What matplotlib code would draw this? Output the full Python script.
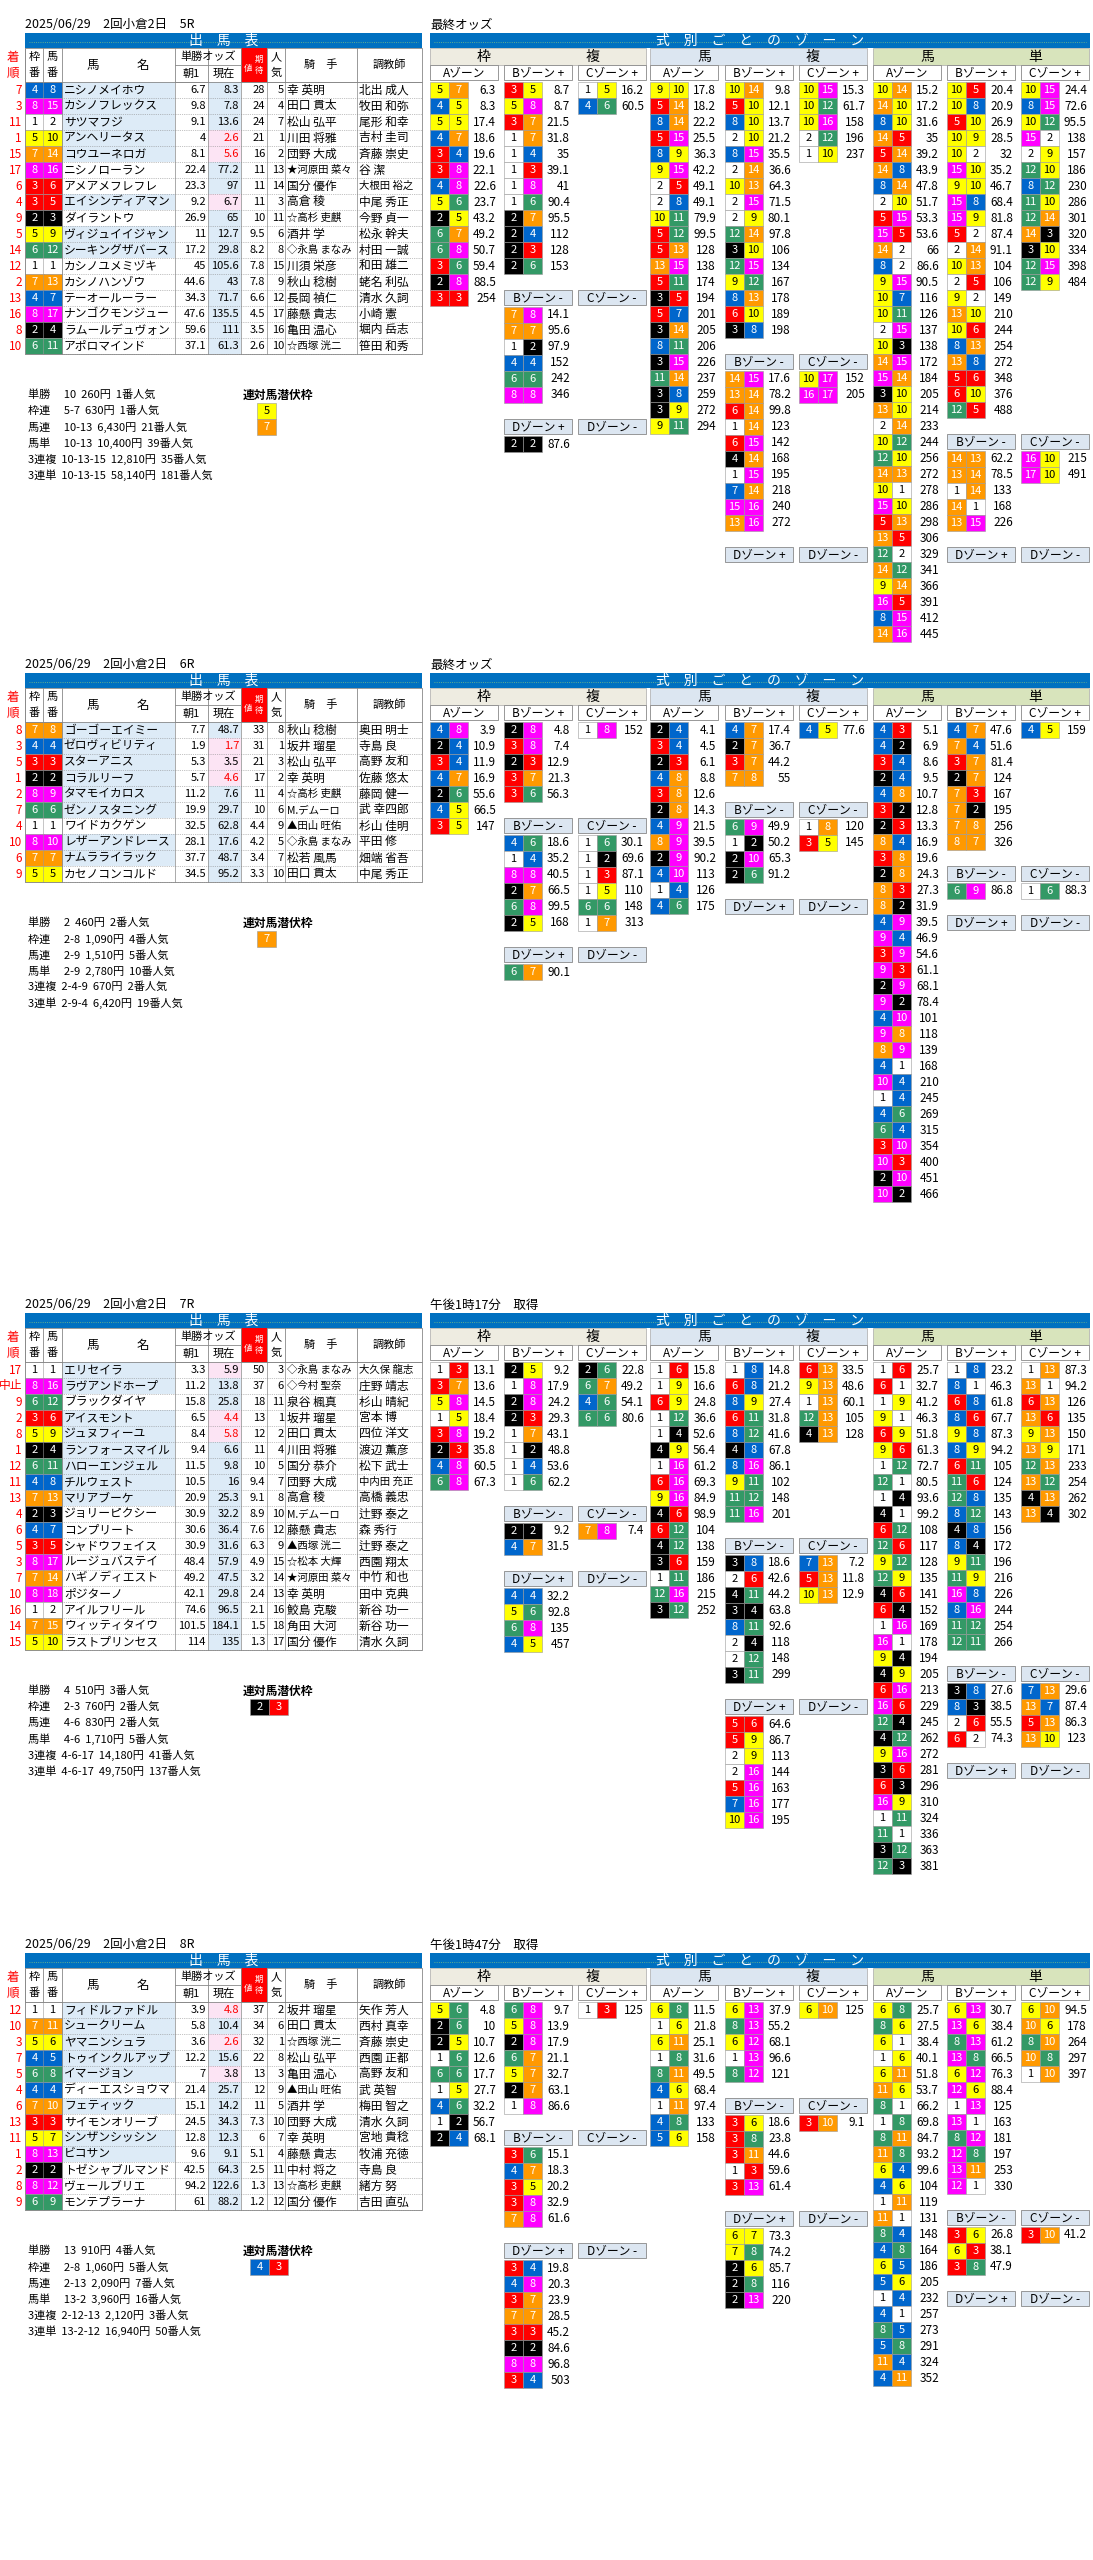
import matplotlib
matplotlib.use("Agg")
import matplotlib.pyplot as plt
from matplotlib.patches import Rectangle

plt.rcParams["font.family"] = ["Noto Sans CJK JP", "DejaVu Sans"]

# ---------------- data: race headers ----------------
RACE_TITLES = ["2025/06/29　2回小倉2日　5R", "2025/06/29　2回小倉2日　6R",
               "2025/06/29　2回小倉2日　7R", "2025/06/29　2回小倉2日　8R"]
ODDS_TIMES = ["最終オッズ", "最終オッズ", "午後1時17分　取得", "午後1時47分　取得"]
FIELD_SIZES = [17, 10, 18, 13]

# horse tables: (着順, 馬番, 馬名, 朝1, 現在, 期待値, 人気, 騎手, 調教師)
R1_HORSES = [
    ("7", 8, "ニシノメイホウ", 6.7, 8.3, 28, 5, "幸 英明", "北出 成人"),
    ("3", 15, "カシノフレックス", 9.8, 7.8, 24, 4, "田口 貫太", "牧田 和弥"),
    ("11", 2, "サツマフジ", 9.1, 13.6, 24, 7, "松山 弘平", "尾形 和幸"),
    ("1", 10, "アンヘリータス", 4, 2.6, 21, 1, "川田 将雅", "吉村 圭司"),
    ("15", 14, "コウユーネロガ", 8.1, 5.6, 16, 2, "団野 大成", "斉藤 崇史"),
    ("17", 16, "ニシノローラン", 22.4, 77.2, 11, 13, "★河原田 菜々", "谷 潔"),
    ("6", 6, "アメアメフレフレ", 23.3, 97, 11, 14, "国分 優作", "大根田 裕之"),
    ("4", 5, "エイシンディアマン", 9.2, 6.7, 11, 3, "高倉 稜", "中尾 秀正"),
    ("9", 3, "ダイラントウ", 26.9, 65, 10, 11, "☆高杉 吏麒", "今野 貞一"),
    ("5", 9, "ヴィジュイイジャン", 11, 12.7, 9.5, 6, "酒井 学", "松永 幹夫"),
    ("14", 12, "シーキングザバース", 17.2, 29.8, 8.2, 8, "◇永島 まなみ", "村田 一誠"),
    ("12", 1, "カシノユメミヅキ", 45, 105.6, 7.8, 15, "川須 栄彦", "和田 雄二"),
    ("2", 13, "カシノハンゾウ", 44.6, 43, 7.8, 9, "秋山 稔樹", "蛯名 利弘"),
    ("13", 7, "テーオールーラー", 34.3, 71.7, 6.6, 12, "長岡 禎仁", "清水 久詞"),
    ("16", 17, "ナンゴクモンジュー", 47.6, 135.5, 4.5, 17, "藤懸 貴志", "小崎 憲"),
    ("8", 4, "ラムールデュヴォン", 59.6, 111, 3.5, 16, "亀田 温心", "堀内 岳志"),
    ("10", 11, "アポロマインド", 37.1, 61.3, 2.6, 10, "☆西塚 洸二", "笹田 和秀"),
]
R2_HORSES = [
    ("8", 8, "ゴーゴーエイミー", 7.7, 48.7, 33, 8, "秋山 稔樹", "奥田 明士"),
    ("3", 4, "ゼロヴィビリティ", 1.9, 1.7, 31, 1, "坂井 瑠星", "寺島 良"),
    ("5", 3, "スターアニス", 5.3, 3.5, 21, 3, "松山 弘平", "高野 友和"),
    ("1", 2, "コラルリーフ", 5.7, 4.6, 17, 2, "幸 英明", "佐藤 悠太"),
    ("2", 9, "タマモイカロス", 11.2, 7.6, 11, 4, "☆高杉 吏麒", "藤岡 健一"),
    ("7", 6, "ゼンノスタニング", 19.9, 29.7, 10, 6, "M.デムーロ", "武 幸四郎"),
    ("4", 1, "ワイドカクゲン", 32.5, 62.8, 4.4, 9, "▲田山 旺佑", "杉山 佳明"),
    ("10", 10, "レザーアンドレース", 28.1, 17.6, 4.2, 5, "◇永島 まなみ", "平田 修"),
    ("6", 7, "ナムラライラック", 37.7, 48.7, 3.4, 7, "松若 風馬", "畑端 省吾"),
    ("9", 5, "カセノコンコルド", 34.5, 95.2, 3.3, 10, "田口 貫太", "中尾 秀正"),
]
R3_HORSES = [
    ("17", 1, "エリセイラ", 3.3, 5.9, 50, 3, "◇永島 まなみ", "大久保 龍志"),
    ("中止", 16, "ラヴアンドホープ", 11.2, 13.8, 37, 6, "◇今村 聖奈", "庄野 靖志"),
    ("9", 12, "ブラックダイヤ", 15.8, 25.8, 18, 11, "泉谷 楓真", "杉山 晴紀"),
    ("2", 6, "アイスモント", 6.5, 4.4, 13, 1, "坂井 瑠星", "宮本 博"),
    ("8", 9, "ジュヌフィーユ", 8.4, 5.8, 12, 2, "田口 貫太", "四位 洋文"),
    ("1", 4, "ランフォースマイル", 9.4, 6.6, 11, 4, "川田 将雅", "渡辺 薫彦"),
    ("12", 11, "ハローエンジェル", 11.5, 9.8, 10, 5, "国分 恭介", "松下 武士"),
    ("11", 8, "チルウェスト", 10.5, 16, 9.4, 7, "団野 大成", "中内田 充正"),
    ("13", 13, "マリアブーケ", 20.9, 25.3, 9.1, 8, "高倉 稜", "高橋 義忠"),
    ("4", 3, "ジョリーピクシー", 30.9, 32.2, 8.9, 10, "M.デムーロ", "辻野 泰之"),
    ("6", 7, "コンプリート", 30.6, 36.4, 7.6, 12, "藤懸 貴志", "森 秀行"),
    ("5", 5, "シャドウフェイス", 30.9, 31.6, 6.3, 9, "▲西塚 洸二", "辻野 泰之"),
    ("3", 17, "ルージュバステイ", 48.4, 57.9, 4.9, 15, "☆松本 大輝", "西園 翔太"),
    ("7", 14, "ハギノディエスト", 49.2, 47.5, 3.2, 14, "★河原田 菜々", "中竹 和也"),
    ("10", 18, "ポジターノ", 42.1, 29.8, 2.4, 13, "幸 英明", "田中 克典"),
    ("16", 2, "アイルフリール", 74.6, 96.5, 2.1, 16, "鮫島 克駿", "新谷 功一"),
    ("14", 15, "ウィッティタイウ", 101.5, 184.1, 1.5, 18, "角田 大河", "新谷 功一"),
    ("15", 10, "ラストプリンセス", 114, 135, 1.3, 17, "国分 優作", "清水 久詞"),
]
R4_HORSES = [
    ("12", 1, "フィドルファドル", 3.9, 4.8, 37, 2, "坂井 瑠星", "矢作 芳人"),
    ("10", 11, "シュークリーム", 5.8, 10.4, 34, 6, "田口 貫太", "西村 真幸"),
    ("3", 6, "ヤマニンシュラ", 3.6, 2.6, 32, 1, "☆西塚 洸二", "斉藤 崇史"),
    ("7", 5, "トゥインクルアップ", 12.2, 15.6, 22, 8, "松山 弘平", "西園 正都"),
    ("5", 8, "イマージョン", 7.0, 3.8, 13, 3, "亀田 温心", "高野 友和"),
    ("4", 4, "ディーエスショウマ", 21.4, 25.7, 12, 9, "▲田山 旺佑", "武 英智"),
    ("6", 10, "フェティック", 15.1, 14.2, 11, 5, "酒井 学", "梅田 智之"),
    ("13", 3, "サイモンオリーブ", 24.5, 34.3, 7.3, 10, "団野 大成", "清水 久詞"),
    ("11", 7, "シンザンシッシン", 12.8, 12.3, 6.0, 7, "幸 英明", "宮地 貴稔"),
    ("1", 13, "ビコサン", 9.6, 9.1, 5.1, 4, "藤懸 貴志", "牧浦 充徳"),
    ("2", 2, "トゼシャブルマンド", 42.5, 64.3, 2.5, 11, "中村 将之", "寺島 良"),
    ("8", 12, "ヴェールブリエ", 94.2, 122.6, 1.3, 13, "☆高杉 吏麒", "緒方 努"),
    ("9", 9, "モンテプラーナ", 61.0, 88.2, 1.2, 12, "国分 優作", "吉田 直弘"),
]

R1_PAYOUTS = ["単勝　 10  260円  1番人気", "枠連　 5-7  630円  1番人気", "馬連　 10-13  6,430円  21番人気",
              "馬単　 10-13  10,400円  39番人気", "3連複  10-13-15  12,810円  35番人気", "3連単  10-13-15  58,140円  181番人気"]
R2_PAYOUTS = ["単勝　 2  460円  2番人気", "枠連　 2-8  1,090円  4番人気", "馬連　 2-9  1,510円  5番人気",
              "馬単　 2-9  2,780円  10番人気", "3連複  2-4-9  670円  2番人気", "3連単  2-9-4  6,420円  19番人気"]
R3_PAYOUTS = ["単勝　 4  510円  3番人気", "枠連　 2-3  760円  2番人気", "馬連　 4-6  830円  2番人気",
              "馬単　 4-6  1,710円  5番人気", "3連複  4-6-17  14,180円  41番人気", "3連単  4-6-17  49,750円  137番人気"]
R4_PAYOUTS = ["単勝　 13  910円  4番人気", "枠連　 2-8  1,060円  5番人気", "馬連　 2-13  2,090円  7番人気",
              "馬単　 13-2  3,960円  16番人気", "3連複  2-12-13  2,120円  3番人気", "3連単  13-2-12  16,940円  50番人気"]
SENPUKU = [[5, 7], [7], [2, 3], [4, 3]]
SENPUKU_VERTICAL = [True, True, False, False]

# ---------------- data: zone lists (first, second, odds) ----------------
R1_WAKU = {
    "A": [(5, 7, 6.3), (4, 5, 8.3), (5, 5, 17.4), (4, 7, 18.6), (3, 4, 19.6), (3, 8, 22.1), (4, 8, 22.6),
          (5, 6, 23.7), (2, 5, 43.2), (6, 7, 49.2), (6, 8, 50.7), (3, 6, 59.4), (2, 8, 88.5), (3, 3, 254)],
    "B+": [(3, 5, 8.7), (5, 8, 8.7), (3, 7, 21.5), (1, 7, 31.8), (1, 4, 35), (1, 3, 39.1), (1, 8, 41),
           (1, 6, 90.4), (2, 7, 95.5), (2, 4, 112), (2, 3, 128), (2, 6, 153)],
    "C+": [(1, 5, 16.2), (4, 6, 60.5)],
    "B-": [(7, 8, 14.1), (7, 7, 95.6), (1, 2, 97.9), (4, 4, 152), (6, 6, 242), (8, 8, 346)],
    "C-": [],
    "D+": [(2, 2, 87.6)],
    "D-": [],
}
R1_UMAREN = {
    "A": [(9, 10, 17.8), (5, 14, 18.2), (8, 14, 22.2), (5, 15, 25.5), (8, 9, 36.3), (9, 15, 42.2), (2, 5, 49.1),
          (2, 8, 49.1), (10, 11, 79.9), (5, 12, 99.5), (5, 13, 128), (13, 15, 138), (5, 11, 174), (3, 5, 194),
          (5, 7, 201), (3, 14, 205), (8, 11, 206), (3, 15, 226), (11, 14, 237), (3, 8, 259), (3, 9, 272), (9, 11, 294)],
    "B+": [(10, 14, 9.8), (5, 10, 12.1), (8, 10, 13.7), (2, 10, 21.2), (8, 15, 35.5), (2, 14, 36.6), (10, 13, 64.3),
           (2, 15, 71.5), (2, 9, 80.1), (12, 14, 97.8), (3, 10, 106), (12, 15, 134), (9, 12, 167), (8, 13, 178),
           (6, 10, 189), (3, 8, 198)],
    "C+": [(10, 15, 15.3), (10, 12, 61.7), (10, 16, 158), (2, 12, 196), (1, 10, 237)],
    "B-": [(14, 15, 17.6), (13, 14, 78.2), (6, 14, 99.8), (1, 14, 123), (6, 15, 142), (4, 14, 168), (1, 15, 195),
           (7, 14, 218), (15, 16, 240), (13, 16, 272)],
    "C-": [(10, 17, 152), (16, 17, 205)],
    "D+": [],
    "D-": [],
}
R1_UMATAN = {
    "A": [(10, 14, 15.2), (14, 10, 17.2), (8, 10, 31.6), (14, 5, 35), (5, 14, 39.2), (14, 8, 43.9), (8, 14, 47.8),
          (2, 10, 51.7), (5, 15, 53.3), (15, 5, 53.6), (14, 2, 66), (8, 2, 86.6), (9, 15, 90.5), (10, 7, 116),
          (10, 11, 126), (2, 15, 137), (10, 3, 138), (14, 15, 172), (15, 14, 184), (3, 10, 205), (13, 10, 214),
          (2, 14, 233), (10, 12, 244), (12, 10, 256), (14, 13, 272), (10, 1, 278), (15, 10, 286), (5, 13, 298),
          (13, 5, 306), (12, 2, 329), (14, 12, 341), (9, 14, 366), (16, 5, 391), (8, 15, 412), (14, 16, 445)],
    "B+": [(10, 5, 20.4), (10, 8, 20.9), (5, 10, 26.9), (10, 9, 28.5), (10, 2, 32), (15, 10, 35.2), (9, 10, 46.7),
           (15, 8, 68.4), (15, 9, 81.8), (5, 2, 87.4), (2, 14, 91.1), (10, 13, 104), (2, 5, 106), (9, 2, 149),
           (13, 10, 210), (10, 6, 244), (8, 13, 254), (13, 8, 272), (5, 6, 348), (6, 10, 376), (12, 5, 488)],
    "C+": [(10, 15, 24.4), (8, 15, 72.6), (10, 12, 95.5), (15, 2, 138), (2, 9, 157), (12, 10, 186), (8, 12, 230),
           (11, 10, 286), (12, 14, 301), (14, 3, 320), (3, 10, 334), (12, 15, 398), (12, 9, 484)],
    "B-": [(14, 13, 62.2), (13, 14, 78.5), (1, 14, 133), (14, 1, 168), (13, 15, 226)],
    "C-": [(16, 10, 215), (17, 10, 491)],
    "D+": [],
    "D-": [],
}

R2_WAKU = {
    "A": [(4, 8, 3.9), (2, 4, 10.9), (3, 4, 11.9), (4, 7, 16.9), (2, 6, 55.6), (4, 5, 66.5), (3, 5, 147)],
    "B+": [(2, 8, 4.8), (3, 8, 7.4), (2, 3, 12.9), (3, 7, 21.3), (3, 6, 56.3)],
    "C+": [(1, 8, 152)],
    "B-": [(4, 6, 18.6), (1, 4, 35.2), (8, 8, 40.5), (2, 7, 66.5), (6, 8, 99.5), (2, 5, 168)],
    "C-": [(1, 6, 30.1), (1, 2, 69.6), (1, 3, 87.1), (1, 5, 110), (6, 6, 148), (1, 7, 313)],
    "D+": [(6, 7, 90.1)],
    "D-": [],
}
R2_UMAREN = {
    "A": [(2, 4, 4.1), (3, 4, 4.5), (2, 3, 6.1), (4, 8, 8.8), (3, 8, 12.6), (2, 8, 14.3), (4, 9, 21.5),
          (8, 9, 39.5), (2, 9, 90.2), (4, 10, 113), (1, 4, 126), (4, 6, 175)],
    "B+": [(4, 7, 17.4), (2, 7, 36.7), (3, 7, 44.2), (7, 8, 55)],
    "C+": [(4, 5, 77.6)],
    "B-": [(6, 9, 49.9), (1, 2, 50.2), (2, 10, 65.3), (2, 6, 91.2)],
    "C-": [(1, 8, 120), (3, 5, 145)],
    "D+": [],
    "D-": [],
}
R2_UMATAN = {
    "A": [(4, 3, 5.1), (4, 2, 6.9), (3, 4, 8.6), (2, 4, 9.5), (4, 8, 10.7), (3, 2, 12.8), (2, 3, 13.3), (8, 4, 16.9),
          (3, 8, 19.6), (2, 8, 24.3), (8, 3, 27.3), (8, 2, 31.9), (4, 9, 39.5), (9, 4, 46.9), (3, 9, 54.6),
          (9, 3, 61.1), (2, 9, 68.1), (9, 2, 78.4), (4, 10, 101), (9, 8, 118), (8, 9, 139), (4, 1, 168),
          (10, 4, 210), (1, 4, 245), (4, 6, 269), (6, 4, 315), (3, 10, 354), (10, 3, 400), (2, 10, 451), (10, 2, 466)],
    "B+": [(4, 7, 47.6), (7, 4, 51.6), (3, 7, 81.4), (2, 7, 124), (7, 3, 167), (7, 2, 195), (7, 8, 256), (8, 7, 326)],
    "C+": [(4, 5, 159)],
    "B-": [(6, 9, 86.8)],
    "C-": [(1, 6, 88.3)],
    "D+": [],
    "D-": [],
}

R3_WAKU = {
    "A": [(1, 3, 13.1), (3, 7, 13.6), (5, 8, 14.5), (1, 5, 18.4), (3, 8, 19.2), (2, 3, 35.8), (4, 8, 60.5), (6, 8, 67.3)],
    "B+": [(2, 5, 9.2), (1, 8, 17.9), (2, 8, 24.2), (2, 3, 29.3), (1, 7, 43.1), (1, 2, 48.8), (1, 4, 53.6), (1, 6, 62.2)],
    "C+": [(2, 6, 22.8), (6, 7, 49.2), (4, 6, 54.1), (6, 6, 80.6)],
    "B-": [(2, 2, 9.2), (4, 7, 31.5)],
    "C-": [(7, 8, 7.4)],
    "D+": [(4, 4, 32.2), (5, 6, 92.8), (6, 8, 135), (4, 5, 457)],
    "D-": [],
}
R3_UMAREN = {
    "A": [(1, 6, 15.8), (1, 9, 16.6), (6, 9, 24.8), (1, 12, 36.6), (1, 4, 52.6), (4, 9, 56.4), (1, 16, 61.2),
          (6, 16, 69.3), (9, 16, 84.9), (4, 6, 98.9), (6, 12, 104), (4, 12, 138), (3, 6, 159), (1, 11, 186),
          (12, 16, 215), (3, 12, 252)],
    "B+": [(1, 8, 14.8), (6, 8, 21.2), (8, 9, 27.4), (6, 11, 31.8), (8, 12, 41.6), (4, 8, 67.8), (8, 16, 86.1),
           (9, 11, 102), (11, 12, 148), (11, 16, 201)],
    "C+": [(6, 13, 33.5), (9, 13, 48.6), (1, 13, 60.1), (12, 13, 105), (4, 13, 128)],
    "B-": [(3, 8, 18.6), (2, 6, 42.6), (4, 11, 44.2), (3, 4, 63.8), (8, 11, 92.6), (2, 4, 118), (2, 12, 148), (3, 11, 299)],
    "C-": [(7, 13, 7.2), (5, 13, 11.8), (10, 13, 12.9)],
    "D+": [(5, 6, 64.6), (5, 9, 86.7), (2, 9, 113), (2, 16, 144), (5, 16, 163), (7, 16, 177), (10, 16, 195)],
    "D-": [],
}
R3_UMATAN = {
    "A": [(1, 6, 25.7), (6, 1, 32.7), (1, 9, 41.2), (9, 1, 46.3), (6, 9, 51.8), (9, 6, 61.3), (1, 12, 72.7),
          (12, 1, 80.5), (1, 4, 93.6), (4, 1, 99.2), (6, 12, 108), (12, 6, 117), (9, 12, 128), (12, 9, 135),
          (4, 6, 141), (6, 4, 152), (1, 16, 169), (16, 1, 178), (9, 4, 194), (4, 9, 205), (6, 16, 213),
          (16, 6, 229), (12, 4, 245), (4, 12, 262), (9, 16, 272), (3, 6, 281), (6, 3, 296), (16, 9, 310),
          (1, 11, 324), (11, 1, 336), (3, 12, 363), (12, 3, 381)],
    "B+": [(1, 8, 23.2), (8, 1, 46.3), (6, 8, 61.8), (8, 6, 67.7), (9, 8, 87.3), (8, 9, 94.2), (6, 11, 105),
           (11, 6, 124), (12, 8, 135), (8, 12, 143), (4, 8, 156), (8, 4, 172), (9, 11, 196), (11, 9, 216),
           (16, 8, 226), (8, 16, 244), (11, 12, 254), (12, 11, 266)],
    "C+": [(1, 13, 87.3), (13, 1, 94.2), (6, 13, 126), (13, 6, 135), (9, 13, 150), (13, 9, 171), (12, 13, 233),
           (13, 12, 254), (4, 13, 262), (13, 4, 302)],
    "B-": [(3, 8, 27.6), (8, 3, 38.5), (2, 6, 55.5), (6, 2, 74.3)],
    "C-": [(7, 13, 29.6), (13, 7, 87.4), (5, 13, 86.3), (13, 10, 123)],
    "D+": [],
    "D-": [],
}

R4_WAKU = {
    "A": [(5, 6, 4.8), (2, 6, 10), (2, 5, 10.7), (1, 6, 12.6), (6, 6, 17.7), (1, 5, 27.7), (4, 6, 32.2),
          (1, 2, 56.7), (2, 4, 68.1)],
    "B+": [(6, 8, 9.7), (5, 8, 13.9), (2, 8, 17.9), (6, 7, 21.1), (5, 7, 32.7), (2, 7, 63.1), (1, 8, 86.6)],
    "C+": [(1, 3, 125)],
    "B-": [(3, 6, 15.1), (4, 7, 18.3), (3, 5, 20.2), (3, 8, 32.9), (7, 8, 61.6)],
    "C-": [],
    "D+": [(3, 4, 19.8), (4, 8, 20.3), (3, 7, 23.9), (7, 7, 28.5), (3, 3, 45.2), (2, 2, 84.6), (8, 8, 96.8), (3, 4, 503)],
    "D-": [],
}
R4_UMAREN = {
    "A": [(6, 8, 11.5), (1, 6, 21.8), (6, 11, 25.1), (1, 8, 31.6), (8, 11, 49.5), (4, 6, 68.4), (1, 11, 97.4),
          (4, 8, 133), (5, 6, 158)],
    "B+": [(6, 13, 37.9), (8, 13, 55.2), (6, 12, 68.1), (1, 13, 96.6), (8, 12, 121)],
    "C+": [(6, 10, 125)],
    "B-": [(3, 6, 18.6), (3, 8, 23.8), (3, 11, 44.6), (1, 3, 59.6), (3, 13, 61.4)],
    "C-": [(3, 10, 9.1)],
    "D+": [(6, 7, 73.3), (7, 8, 74.2), (2, 6, 85.7), (2, 8, 116), (2, 13, 220)],
    "D-": [],
}
R4_UMATAN = {
    "A": [(6, 8, 25.7), (8, 6, 27.5), (6, 1, 38.4), (1, 6, 40.1), (6, 11, 51.8), (11, 6, 53.7), (8, 1, 66.2),
          (1, 8, 69.8), (8, 11, 84.7), (11, 8, 93.2), (6, 4, 99.6), (4, 6, 104), (1, 11, 119), (11, 1, 131),
          (8, 4, 148), (4, 8, 164), (6, 5, 186), (5, 6, 205), (1, 4, 232), (4, 1, 257), (8, 5, 273),
          (5, 8, 291), (11, 4, 324), (4, 11, 352)],
    "B+": [(6, 13, 30.7), (13, 6, 38.4), (8, 13, 61.2), (13, 8, 66.5), (6, 12, 76.3), (12, 6, 88.4),
           (1, 13, 125), (13, 1, 163), (8, 12, 181), (12, 8, 197), (13, 11, 253), (12, 1, 330)],
    "C+": [(6, 10, 94.5), (10, 6, 178), (8, 10, 264), (10, 8, 297), (1, 10, 397)],
    "B-": [(3, 6, 26.8), (6, 3, 38.1), (3, 8, 47.9)],
    "C-": [(3, 10, 41.2)],
    "D+": [],
    "D-": [],
}

RACE_HORSES = [R1_HORSES, R2_HORSES, R3_HORSES, R4_HORSES]
RACE_PAYOUTS = [R1_PAYOUTS, R2_PAYOUTS, R3_PAYOUTS, R4_PAYOUTS]
RACE_ZONES = [(R1_WAKU, R1_UMAREN, R1_UMATAN), (R2_WAKU, R2_UMAREN, R2_UMATAN),
              (R3_WAKU, R3_UMAREN, R3_UMATAN), (R4_WAKU, R4_UMAREN, R4_UMATAN)]

# ---------------- styling ----------------
FRAME_BG = {1: "white", 2: "black", 3: "#ff0000", 4: "#0066cc", 5: "#ffff00",
            6: "#339966", 7: "#ff9900", 8: "#ff00ff"}
FRAME_FG = {1: "black", 2: "white", 3: "white", 4: "white", 5: "black",
            6: "white", 7: "white", 8: "white"}
BLUE = "#0070c0"
FS = 8


def frame_of(h, n):
    if n <= 8:
        return h
    extra = n - 8  # extra horses go to the highest frames
    singles = 8 - extra
    if singles >= 0:
        if h <= singles:
            return h
        return singles + (h - singles + 1) // 2
    # more than 16 horses: all frames double, top frames triple
    trip = n - 16
    doubles_end = 2 * (8 - trip)
    if h <= doubles_end:
        return (h + 1) // 2
    return 8 - trip + 1 + (h - doubles_end - 1) // 3


def rect(ax, x, y, w, h, fc, ec="none", lw=0.6):
    ax.add_patch(Rectangle((x, y), w, h, facecolor=fc, edgecolor=ec, linewidth=lw))


def txt(ax, x, y, s, ha="center", color="black", size=FS, weight="normal"):
    ax.text(x, y, s, ha=ha, va="center", color=color, fontsize=size, fontweight=weight)


def fmt(v):
    return f"{v:g}"


def num_box(ax, x, y, frame, label):
    rect(ax, x, y, 19, 16, FRAME_BG[frame], "#999999", 0.4)
    txt(ax, x + 9.5, y + 8, str(label), color=FRAME_FG[frame])


def title_bar(ax, x0, x1, y, label):
    rect(ax, x0, y, x1 - x0, 15, BLUE)
    ax.plot([x0 + 4, x1 - 4], [y + 9, y + 9], ls=":", color="#7fbf7f", lw=0.6)
    cx = (x0 + x1) / 2
    w = 13 * len(label)
    rect(ax, cx - w / 2, y + 1, w, 13, BLUE)
    txt(ax, cx, y + 7.5, "　".join(label), color="white", size=10)


fig = plt.figure(figsize=(10.93, 25.6), dpi=100)
ax = fig.add_axes([0, 0, 1, 1])
ax.set_xlim(0, 1093)
ax.set_ylim(2560, 0)
ax.axis("off")

COLS = [(25, 43), (43, 62), (62, 175), (175, 208), (208, 241), (241, 267), (267, 285), (285, 357), (357, 422)]
SECTIONS = [("枠", "複", [430, 504, 578], "#eeece1"),
            ("馬", "複", [650, 725, 799], "#dce6f1"),
            ("馬", "単", [873, 947, 1021], "#d8e4bc")]

for k in range(4):
    oy = 640 * k
    n = FIELD_SIZES[k]
    horses = RACE_HORSES[k]
    txt(ax, 25, oy + 25, RACE_TITLES[k], ha="left", size=9)
    txt(ax, 430, oy + 25, ODDS_TIMES[k], ha="left", size=9)

    # ---- left table ----
    title_bar(ax, 25, 422, oy + 33, "出馬表")
    hy = oy + 48
    rect(ax, 25, hy, 397, 34, "white", "#888888", 0.6)
    for x0, x1 in COLS:
        ax.plot([x0, x0], [hy, hy + 34], color="#888888", lw=0.6)
    ax.plot([175, 241], [hy + 17, hy + 17], color="#888888", lw=0.6)
    txt(ax, 13, hy + 9, "着", color="red", size=9)
    txt(ax, 13, hy + 25, "順", color="red", size=9)
    txt(ax, 34, hy + 9, "枠"); txt(ax, 34, hy + 25, "番")
    txt(ax, 52, hy + 9, "馬"); txt(ax, 52, hy + 25, "番")
    txt(ax, 118, hy + 17, "馬　　　名", size=9)
    txt(ax, 208, hy + 9, "単勝オッズ")
    txt(ax, 191, hy + 26, "朝1"); txt(ax, 224, hy + 26, "現在")
    rect(ax, 241, hy, 26, 34, "#ff0000")
    txt(ax, 248, hy + 20, "値", color="white", size=6)
    txt(ax, 259, hy + 11, "期", color="white", size=6)
    txt(ax, 259, hy + 23, "待", color="white", size=6)
    txt(ax, 276, hy + 9, "人"); txt(ax, 276, hy + 25, "気")
    txt(ax, 321, hy + 17, "騎　手")
    txt(ax, 389, hy + 17, "調教師")

    ry = oy + 82
    for i, (rank, uma, name, m1, now, ev, pop, jockey, trainer) in enumerate(horses):
        y = ry + 16 * i
        fr = frame_of(uma, n)
        if pop <= 8:
            rect(ax, 62, y, 113, 16, "#ddebf7")
        rect(ax, 208, y, 33, 16, "#fce4f4" if pop <= 3 else "#ddebf7")
        num_box(ax, 25, y, fr, fr)
        num_box(ax, 43, y, fr, uma)
        txt(ax, 22, y + 8, rank, ha="right", color="red", size=8.5 if len(rank) < 3 else 7.5)
        txt(ax, 64, y + 8, name, ha="left", size=8.5)
        txt(ax, 206, y + 8, fmt(m1), ha="right")
        txt(ax, 239, y + 8, fmt(now), ha="right", color="red" if pop <= 2 else "black")
        txt(ax, 265, y + 8, fmt(ev), ha="right")
        txt(ax, 284, y + 8, str(pop), ha="right")
        txt(ax, 287, y + 8, jockey, ha="left", size=8.5 if len(jockey) < 6 else 7.5)
        txt(ax, 359, y + 8, trainer, ha="left", size=8.5 if len(trainer) < 6 else 7.5)
        ax.plot([62, 422], [y + 16, y + 16], ls=":", color="#888888", lw=0.5)
    ye = ry + 16 * len(horses)
    ax.plot([25, 422, 422, 25, 25], [ry, ry, ye, ye, ry], color="#888888", lw=0.6)
    for x0, x1 in COLS[2:]:
        ax.plot([x0, x0], [ry, ye], color="#888888", lw=0.5)

    # payouts
    py = ye + 41
    for j, line in enumerate(RACE_PAYOUTS[k]):
        txt(ax, 28, py + 16 * j, line, ha="left", size=8)
    txt(ax, 243, py, "連対馬潜伏枠", ha="left", size=8.5, weight="bold")
    for j, f in enumerate(SENPUKU[k]):
        if SENPUKU_VERTICAL[k]:
            num_box(ax, 257, py + 8 + 16 * j, f, f)
        else:
            num_box(ax, 250 + 19 * j, py + 8, f, f)

    # ---- zone panels ----
    title_bar(ax, 430, 1090, oy + 33, "式別ごとのゾーン")
    for (s1, s2, xs, bg), data in zip(SECTIONS, RACE_ZONES[k]):
        x0, x1 = xs[0], xs[2] + 68
        rect(ax, x0, oy + 48, x1 - x0, 17, bg, "#aaaaaa", 0.5)
        txt(ax, x0 + (x1 - x0) * 0.25, oy + 56.5, s1, size=10)
        txt(ax, x0 + (x1 - x0) * 0.75, oy + 56.5, s2, size=10)
        is_waku = s2 == "複" and s1 == "枠"

        def draw_zone(x, ylab, label, rows, minus=False):
            rect(ax, x, ylab, 68, 15, "#dce6f1" if minus else "white", "#888888", 0.6)
            txt(ax, x + 34, ylab + 7.5, label, size=8.5)
            for r, (a, b, v) in enumerate(rows):
                yy = ylab + 17 + 16 * r
                fa = a if is_waku else frame_of(a, n)
                fb = b if is_waku else frame_of(b, n)
                num_box(ax, x, yy, fa, a)
                num_box(ax, x + 19, yy, fb, b)
                txt(ax, x + 66, yy + 8, fmt(v), ha="right", size=8.5)
            return len(rows)

        ylab = oy + 65
        draw_zone(xs[0], ylab, "Aゾーン", data["A"])
        nb = draw_zone(xs[1], ylab, "Bゾーン +", data["B+"])
        nc = draw_zone(xs[2], ylab, "Cゾーン +", data["C+"]) if data["C+"] else 0
        y2 = ylab + 17 + 16 * (max(nb, nc) + 1)
        nb2 = draw_zone(xs[1], y2, "Bゾーン -", data["B-"], True)
        nc2 = draw_zone(xs[2], y2, "Cゾーン -", data["C-"], True)
        y3 = y2 + 17 + 16 * (max(nb2, nc2) + 1)
        draw_zone(xs[1], y3, "Dゾーン +", data["D+"], True)
        draw_zone(xs[2], y3, "Dゾーン -", data["D-"], True)

fig.savefig("out.png", dpi=100)
